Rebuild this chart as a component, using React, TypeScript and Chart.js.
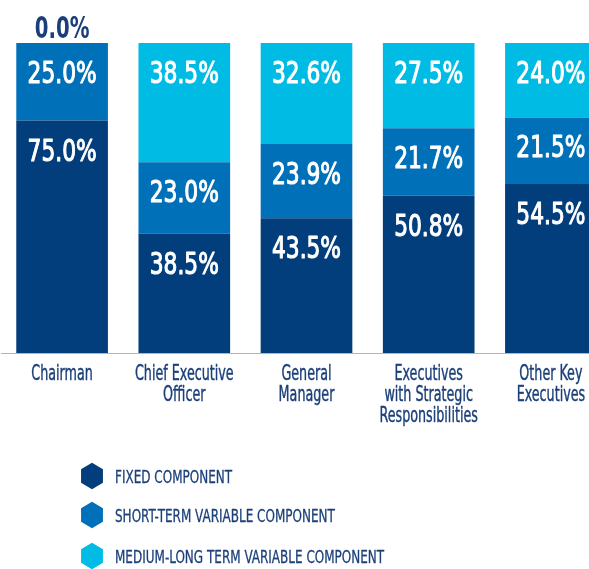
import React, { useEffect, useRef } from "react";
import { Chart, registerables } from "chart.js";

Chart.register(...registerables);

const categories: string[][] = [
  ["Chairman"],
  ["Chief Executive", "Officer"],
  ["General", "Manager"],
  ["Executives", "with Strategic", "Responsibilities"],
  ["Other Key", "Executives"],
];
const fixedComponent = [75.0, 38.5, 43.5, 50.8, 54.5];
const shortTermComponent = [25.0, 23.0, 23.9, 21.7, 21.5];
const mediumLongComponent = [0.0, 38.5, 32.6, 27.5, 24.0];
const seriesNames = [
  "FIXED COMPONENT",
  "SHORT-TERM VARIABLE COMPONENT",
  "MEDIUM-LONG TERM VARIABLE COMPONENT",
];
const seriesColors = ["#023d7c", "#0070b9", "#00bce4"];
const NAVY = "#1b3f7a";
const FONT = "'DejaVu Sans Condensed', 'DejaVu Sans', sans-serif";

function condensedText(ctx: any, txt: string, x: number, y: number, sx: number, align: string, stroke = 0) {
  ctx.save();
  ctx.translate(x, y);
  ctx.scale(sx, 1);
  ctx.textAlign = align;
  if (stroke > 0) {
    ctx.lineWidth = stroke;
    ctx.lineJoin = "round";
    ctx.strokeStyle = ctx.fillStyle;
    ctx.strokeText(txt, 0, 0);
  }
  ctx.fillText(txt, 0, 0);
  ctx.restore();
}

const valueLabels = {
  id: "valueLabels",
  afterDatasetsDraw(chart: any) {
    const ctx = chart.ctx;
    ctx.save();
    ctx.textBaseline = "alphabetic";
    chart.data.datasets.forEach((ds: any, i: number) => {
      const meta = chart.getDatasetMeta(i);
      meta.data.forEach((bar: any, j: number) => {
        const v = ds.data[j];
        const txt = v.toFixed(1) + "%";
        if (v === 0) {
          ctx.fillStyle = NAVY;
          ctx.font = `bold 30px ${FONT}`;
          condensedText(ctx, txt, bar.x, bar.y - 5, 0.73, "center");
        } else {
          ctx.fillStyle = "#ffffff";
          ctx.font = `31px ${FONT}`;
          condensedText(ctx, txt, bar.x, bar.y + 40, 0.78, "center", 1.1);
        }
      });
    });
    ctx.restore();
  },
};

const categoryLabels = {
  id: "categoryLabels",
  afterDraw(chart: any) {
    const ctx = chart.ctx;
    const scale = chart.scales.x;
    ctx.save();
    ctx.fillStyle = NAVY;
    ctx.font = `20.5px ${FONT}`;
    ctx.textBaseline = "alphabetic";
    (chart.data.labels as string[][]).forEach((lines, j) => {
      const x = scale.getPixelForTick(j);
      lines.forEach((line, k) => {
        condensedText(ctx, line, x, scale.top + 27 + k * 21, 0.69, "center", 0.4);
      });
    });
    ctx.restore();
  },
};

const hexLegend = {
  id: "hexLegend",
  afterDraw(chart: any) {
    const ctx = chart.ctx;
    const rows = [476, 515, 556];
    ctx.save();
    chart.data.datasets.forEach((ds: any, i: number) => {
      const cx = 92;
      const cy = rows[i];
      const r = 13.3;
      ctx.beginPath();
      for (let k = 0; k < 6; k++) {
        const a = -Math.PI / 2 + (k * Math.PI) / 3;
        const px = cx + r * Math.cos(a) * 0.95;
        const py = cy + r * Math.sin(a);
        if (k === 0) ctx.moveTo(px, py);
        else ctx.lineTo(px, py);
      }
      ctx.closePath();
      ctx.fillStyle = ds.backgroundColor;
      ctx.fill();
      ctx.fillStyle = NAVY;
      ctx.font = `18.3px ${FONT}`;
      ctx.textBaseline = "alphabetic";
      condensedText(ctx, ds.label, 115, cy + 6.5, 0.73, "left", 0.3);
    });
    ctx.restore();
  },
};

export default function App() {
  const ref = useRef<HTMLCanvasElement>(null);
  useEffect(() => {
    if (!ref.current) return;
    const chart = new Chart(ref.current, {
      type: "bar",
      data: {
        labels: categories,
        datasets: [
          { label: seriesNames[0], data: fixedComponent, backgroundColor: seriesColors[0] },
          { label: seriesNames[1], data: shortTermComponent, backgroundColor: seriesColors[1] },
          { label: seriesNames[2], data: mediumLongComponent, backgroundColor: seriesColors[2] },
        ],
      },
      options: {
        responsive: false,
        animation: false,
        layout: { padding: { top: 43, left: 1, right: 0, bottom: 0 } },
        plugins: { legend: { display: false }, tooltip: { enabled: false } },
        datasets: { bar: { barPercentage: 0.75, categoryPercentage: 1, borderWidth: 0 } },
        scales: {
          x: {
            stacked: true,
            grid: { display: false, drawTicks: false },
            border: { display: true, dash: [3, 2], color: "#b4b4b4", width: 1 },
            ticks: { display: false },
            afterFit: (scale: any) => {
              scale.height = 569 - 353;
            },
          },
          y: { stacked: true, display: false, min: 0, max: 100 },
        },
      },
      plugins: [valueLabels, categoryLabels, hexLegend],
    });
    return () => chart.destroy();
  }, []);
  return (
    <div style={{ position: "fixed", left: 0, top: 0, width: 589, height: 569, overflow: "hidden", background: "#fff" }}>
      <canvas ref={ref} width={612} height={569} style={{ display: "block" }} />
    </div>
  );
}
